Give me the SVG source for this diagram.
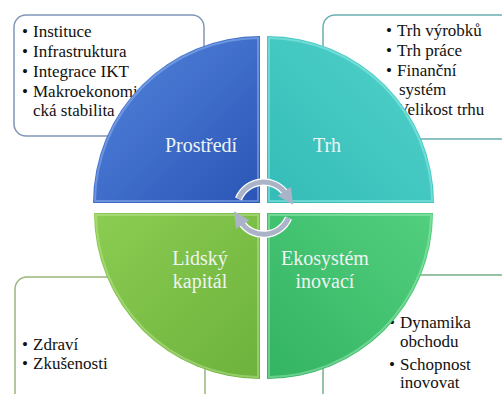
<svg xmlns="http://www.w3.org/2000/svg" width="502" height="394" viewBox="0 0 502 394" font-family="Liberation Serif">
  <style>
    .box { fill: #ffffff; stroke-width: 1.5; }
    .item { font-size: 17px; fill: #111111; }
    .label { font-size: 20px; fill: #eef4f2; text-anchor: middle; }
    .rim { fill: none; stroke-width: 2; stroke-opacity: 0.45; }
    .cycle-under { fill: none; stroke: #ffffff; stroke-width: 7.5; }
    .cycle { fill: none; stroke: #aab3c7; stroke-width: 5; }
  </style>
  <defs>
    <linearGradient id="gBlue" x1="0" y1="0" x2="1" y2="1">
      <stop offset="0" stop-color="#5586de"/>
      <stop offset="1" stop-color="#2a55b6"/>
    </linearGradient>
    <linearGradient id="gTeal" x1="1" y1="0" x2="0" y2="1">
      <stop offset="0" stop-color="#52d2ca"/>
      <stop offset="1" stop-color="#34bcb8"/>
    </linearGradient>
    <linearGradient id="gLime" x1="0" y1="0" x2="1" y2="1">
      <stop offset="0" stop-color="#8ccc52"/>
      <stop offset="1" stop-color="#6cb23c"/>
    </linearGradient>
    <linearGradient id="gGreen" x1="1" y1="0" x2="0" y2="1">
      <stop offset="0" stop-color="#52cf7e"/>
      <stop offset="1" stop-color="#33b462"/>
    </linearGradient>
    <marker id="head" viewBox="0 0 10 10" refX="2" refY="5" markerWidth="3.2" markerHeight="3.2" orient="auto" markerUnits="strokeWidth">
      <path d="M0,0 L10,5 L0,10 Z" fill="#aab3c7"/>
    </marker>
  </defs>

  <!-- Text boxes behind the circle -->
  <g id="box-prostredi">
    <rect class="box" x="14" y="15" width="190" height="121" rx="12" stroke="#8096b6"/>
    <text class="item">
      <tspan x="22" y="37">•</tspan><tspan x="33" y="37">Instituce</tspan>
      <tspan x="22" y="57">•</tspan><tspan x="33" y="57">Infrastruktura</tspan>
      <tspan x="22" y="77">•</tspan><tspan x="33" y="77">Integrace IKT</tspan>
      <tspan x="22" y="97">•</tspan><tspan x="33" y="97">Makroekonomi</tspan>
      <tspan x="33" y="116">cká stabilita</tspan>
    </text>
  </g>
  <g id="box-trh">
    <rect class="box" x="323" y="15" width="200" height="124" rx="12" stroke="#6aaeb0"/>
    <text class="item">
      <tspan x="386" y="36">•</tspan><tspan x="397" y="36">Trh výrobků</tspan>
      <tspan x="386" y="56">•</tspan><tspan x="397" y="56">Trh práce</tspan>
      <tspan x="386" y="76">•</tspan><tspan x="397" y="76">Finanční</tspan>
      <tspan x="399" y="95">systém</tspan>
      <tspan x="386" y="115">•</tspan><tspan x="397" y="115">Velikost trhu</tspan>
    </text>
  </g>
  <g id="box-lidsky-kapital">
    <rect class="box" x="15" y="277" width="190" height="140" rx="12" stroke="#98b67a"/>
    <text class="item">
      <tspan x="22" y="350">•</tspan><tspan x="33" y="350">Zdraví</tspan>
      <tspan x="22" y="369">•</tspan><tspan x="33" y="369">Zkušenosti</tspan>
    </text>
  </g>
  <g id="box-ekosystem">
    <rect class="box" x="323" y="275" width="200" height="140" rx="12" stroke="#7aae88"/>
    <text class="item">
      <tspan x="389" y="328">•</tspan><tspan x="400" y="328">Dynamika</tspan>
      <tspan x="400" y="347">obchodu</tspan>
      <tspan x="389" y="370">•</tspan><tspan x="400" y="370">Schopnost</tspan>
      <tspan x="400" y="388">inovovat</tspan>
    </text>
  </g>

  <!-- Circle quadrants -->
  <g id="q-prostredi">
    <path d="M260,203 L93,203 A167,167 0 0 1 260,36 Z" fill="url(#gBlue)"/>
    <path class="rim" d="M258,201 L95,201 A165,165 0 0 1 258,38 Z" stroke="#9fc0f2"/>
    <text class="label" x="201" y="152">Prostředí</text>
  </g>
  <g id="q-trh">
    <path d="M267,203 L267,36 A167,167 0 0 1 434,203 Z" fill="url(#gTeal)"/>
    <path class="rim" d="M269,201 L269,38 A165,165 0 0 1 432,201 Z" stroke="#a6f2ee"/>
    <text class="label" x="327" y="152">Trh</text>
  </g>
  <g id="q-lidsky-kapital">
    <path d="M260,213 L260,379 A166,166 0 0 1 94,213 Z" fill="url(#gLime)"/>
    <path class="rim" d="M258,215 L258,377 A164,164 0 0 1 96,215 Z" stroke="#c8e8a0"/>
    <text class="label" x="200" y="265">Lidský</text>
    <text class="label" x="200" y="288">kapitál</text>
  </g>
  <g id="q-ekosystem">
    <path d="M267,213 L433,213 A166,166 0 0 1 267,379 Z" fill="url(#gGreen)"/>
    <path class="rim" d="M269,215 L431,215 A164,164 0 0 1 269,377 Z" stroke="#aef0c4"/>
    <text class="label" x="325" y="265">Ekosystém</text>
    <text class="label" x="325" y="288">inovací</text>
  </g>

  <!-- Cycle arrows in the centre -->
  <g id="connectors">
    <path class="cycle-under" d="M238.5,199 A27,27 0 0 1 286,194"/>
    <path class="cycle-under" d="M288.5,218 A27,27 0 0 1 241,222"/>
    <path class="cycle" d="M238.5,199 A27,27 0 0 1 286,194" marker-end="url(#head)"/>
    <path class="cycle" d="M288.5,218 A27,27 0 0 1 241,222" marker-end="url(#head)"/>
  </g>
</svg>
